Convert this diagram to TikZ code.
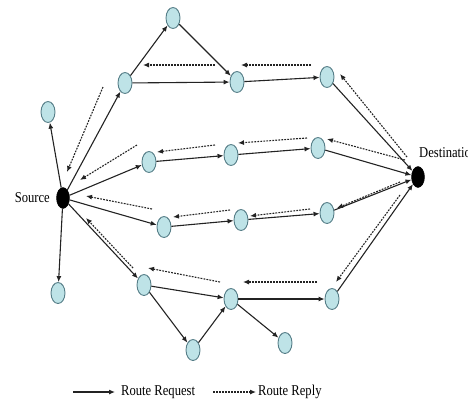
\documentclass[tikz,border=0pt]{standalone}
\usepackage{fontspec}
\setmainfont{Liberation Serif}
\newfontfamily\lblfont[FakeStretch=0.84]{Liberation Serif}
\usetikzlibrary{arrows.meta,shapes.geometric}
\definecolor{hostfill}{RGB}{190,227,231}
\definecolor{hostedge}{RGB}{85,125,135}
\definecolor{linegray}{RGB}{35,35,35}
\begin{document}
\begin{tikzpicture}[x=1pt,y=-1pt,
  host/.style={ellipse,draw=hostedge,fill=hostfill,line width=0.9pt,
    minimum width=14pt,minimum height=21pt,inner sep=0pt},
  endpt/.style={ellipse,draw=black,fill=black,
    minimum width=13pt,minimum height=21pt,inner sep=0pt},
  req/.style={draw=linegray,line width=1.1pt,-{Latex[length=6pt,width=5pt]}},
  rep/.style={draw=linegray,line width=1.1pt,dash pattern=on 1.8pt off 1.2pt,
    -{Latex[length=6pt,width=5pt]}},
  lbl/.style={font=\lblfont\fontsize{15}{17}\selectfont,inner sep=0pt}]
\useasboundingbox (0,0) rectangle (468,405);
\clip (0,0) rectangle (468,405);

% end points
\node[endpt] (src) at (63,198) {};
\node[endpt] (dst) at (418,177) {};
\node[lbl,anchor=east] (srcl) at (50,198) {Source};
\node[lbl,anchor=west] (dstl) at (419,153) {Destination};

% intermediate hosts
\node[host] (a)  at (173,18)  {};
\node[host] (b)  at (125,83)  {};
\node[host] (c)  at (48,112)  {};
\node[host] (e)  at (237,82)  {};
\node[host] (f)  at (327,77)  {};
\node[host] (d1) at (149,162) {};
\node[host] (d2) at (231,155) {};
\node[host] (d3) at (318,148) {};
\node[host] (r1) at (164,227) {};
\node[host] (r2) at (241,220) {};
\node[host] (r3) at (327,213) {};
\node[host] (g)  at (58,293)  {};
\node[host] (h1) at (144,285) {};
\node[host] (h2) at (193,350) {};
\node[host] (h3) at (231,299) {};
\node[host] (h4) at (332,299) {};
\node[host] (h5) at (285,343) {};

% route requests
\draw[req] (src) -- (c);
\draw[req] (src) -- (b);
\draw[req] (b) -- (a);
\draw[req] (a) -- (e);
\draw[req] (b) -- (e);
\draw[req] (e) -- (f);
\draw[req] (f) -- (dst);
\draw[req] (src) -- (d1);
\draw[req] (d1) -- (d2);
\draw[req] (d2) -- (d3);
\draw[req] (d3) -- (dst);
\draw[req] (src) -- (r1);
\draw[req] (r1) -- (r2);
\draw[req] (r2) -- (r3);
\draw[req] (r3) -- (dst);
\draw[req] (src) -- (g);
\draw[req] (src) -- (h1);
\draw[req] (h1) -- (h3);
\draw[req] (h1) -- (h2);
\draw[req] (h2) -- (h3);
\draw[req] (h3) -- (h4);
\draw[req] (h3) -- (h5);
\draw[req] (h4) -- (dst);

% route replies, drawn beside the request paths
\coordinate (p1s) at (311,65);  \coordinate (p1e) at (241,65);
\coordinate (p2s) at (215,65);  \coordinate (p2e) at (143,65);
\coordinate (p3s) at (103,87);  \coordinate (p3e) at (67,172);
\coordinate (p4s) at (407,157); \coordinate (p4e) at (340,74);
\coordinate (q1s) at (405,160); \coordinate (q1e) at (327,139);
\coordinate (q2s) at (307,138); \coordinate (q2e) at (238,143);
\coordinate (q3s) at (215,145); \coordinate (q3e) at (157,152);
\coordinate (q4s) at (137,145); \coordinate (q4e) at (80,180);
\coordinate (s1s) at (400,182); \coordinate (s1e) at (337,208);
\coordinate (s2s) at (310,209); \coordinate (s2e) at (250,216);
\coordinate (s3s) at (230,210); \coordinate (s3e) at (173,217);
\coordinate (s4s) at (152,209); \coordinate (s4e) at (86,196);
\coordinate (t1s) at (400,195); \coordinate (t1e) at (336,282);
\coordinate (t2s) at (317,282); \coordinate (t2e) at (243,282);
\coordinate (t3s) at (220,282); \coordinate (t3e) at (148,268);
\coordinate (t4s) at (133,268); \coordinate (t4e) at (86,218);
\foreach \p in {p1,p2,p3,p4,q1,q2,q3,q4,s1,s2,s3,s4,t1,t2,t3,t4}
  \draw[rep] (\p s) -- (\p e);

% legend
\coordinate (l1s) at (73,392);  \coordinate (l1e) at (115,392);
\coordinate (l2s) at (213,392); \coordinate (l2e) at (256,392);
\draw[req] (l1s) -- (l1e);
\node[lbl,anchor=west] (l1t) at (121,392) {Route Request};
\draw[rep] (l2s) -- (l2e);
\node[lbl,anchor=west] (l2t) at (258,392) {Route Reply};
\end{tikzpicture}
\end{document}
